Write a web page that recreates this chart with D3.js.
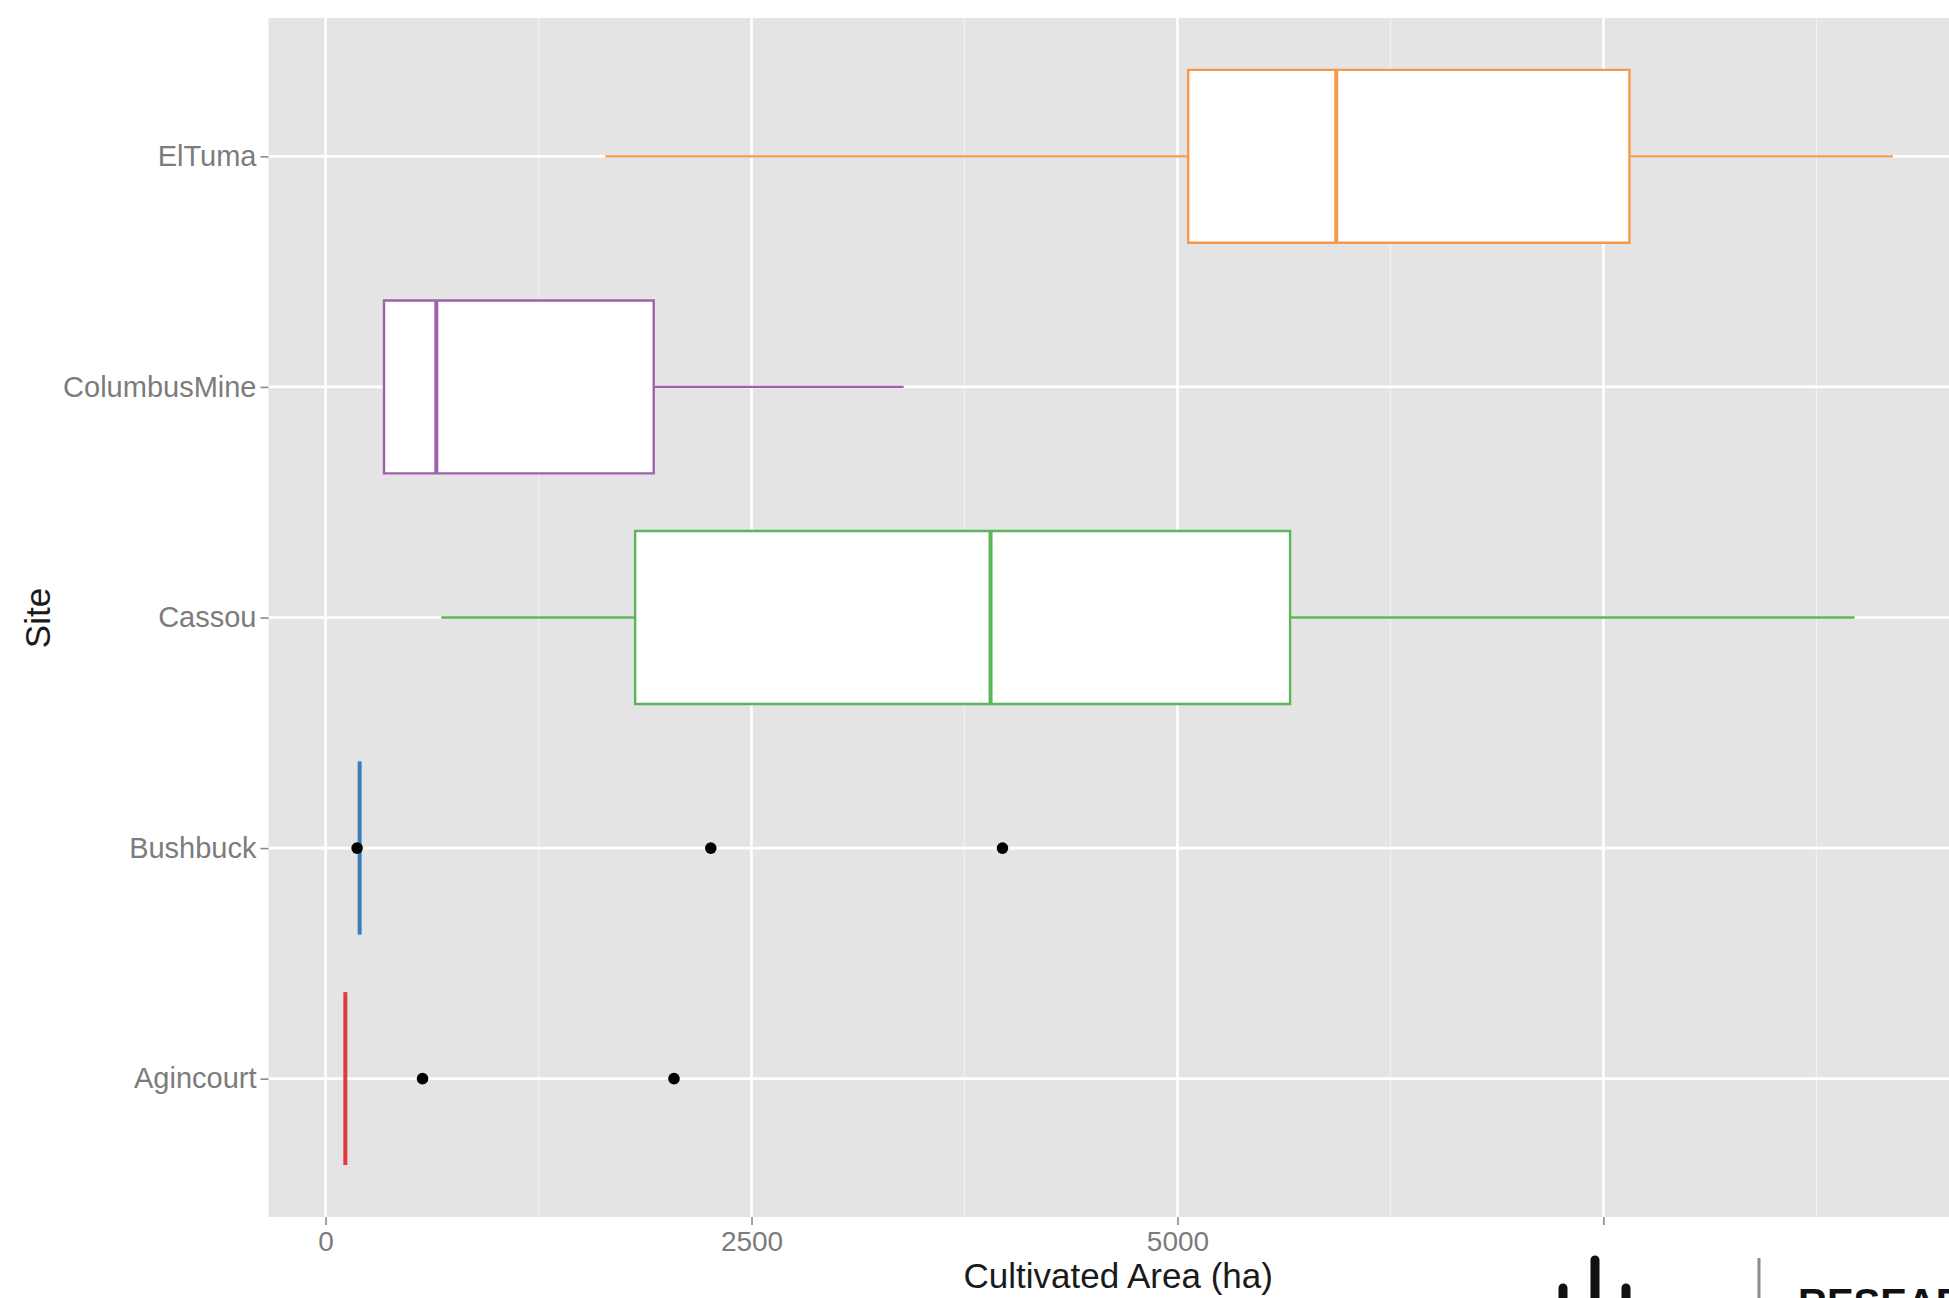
<!DOCTYPE html>
<html>
<head>
<meta charset="utf-8">
<script src="https://cdn.jsdelivr.net/npm/d3@7"></script>
<style>
  html, body { margin: 0; padding: 0; background: #fff; }
  svg { display: block; font-family: "Liberation Sans", Arial, sans-serif; }
</style>
</head>
<body>
<svg id="chart"></svg>
<script>
/* ------------------ data ------------------ */

const sites = ["Agincourt", "Bushbuck", "Cassou", "ColumbusMine", "ElTuma"];
const whiskerLow = [116, 200, 679, 343, 1642];
const q1 = [116, 200, 1817, 343, 5063];
const median = [116, 200, 3903, 650, 5932];
const q3 = [116, 200, 5661, 1926, 7653];
const whiskerHigh = [116, 200, 8974, 3393, 9200];
const outliers = [[569, 2045], [185, 2261, 3973], [], [], []];

const majorTicks = [0, 2500, 5000, 7500];
const minorTicks = [1250, 3750, 6250, 8750];
const xTitle = "Cultivated Area (ha)";
const yTitle = "Site";

/* ------------------ constants ------------------ */

const WIDTH = 1949;
const HEIGHT = 1298;
const PANEL = { left: 268.5, right: 1968, top: 18, bottom: 1217 };
const PALETTE = ["#e2393b", "#3d7db8", "#5cb659", "#a060af", "#f4994a"];

/* ------------------ render ------------------ */

const svg = d3.select("#chart").attr("width", WIDTH).attr("height", HEIGHT);

const x = d3.scaleLinear()
  .domain([-335, 9640])
  .range([PANEL.left, PANEL.right]);

const y = d3.scalePoint()
  .domain(sites)
  .range([PANEL.bottom, PANEL.top])
  .padding(0.6);

const boxH = y.step() * 0.75;

// panel background
svg.append("rect")
  .attr("x", PANEL.left).attr("y", PANEL.top)
  .attr("width", PANEL.right - PANEL.left)
  .attr("height", PANEL.bottom - PANEL.top)
  .attr("fill", "#e4e4e4");

// grid
const grid = svg.append("g");
grid.selectAll("line.minor").data(minorTicks).join("line")
  .attr("x1", d => x(d)).attr("x2", d => x(d))
  .attr("y1", PANEL.top).attr("y2", PANEL.bottom)
  .attr("stroke", "#f1f1f1").attr("stroke-width", 1.3);
grid.selectAll("line.majx").data(majorTicks).join("line")
  .attr("x1", d => x(d)).attr("x2", d => x(d))
  .attr("y1", PANEL.top).attr("y2", PANEL.bottom)
  .attr("stroke", "#fff").attr("stroke-width", 2.6);
grid.selectAll("line.majy").data(sites).join("line")
  .attr("x1", PANEL.left).attr("x2", PANEL.right)
  .attr("y1", d => y(d)).attr("y2", d => y(d))
  .attr("stroke", "#fff").attr("stroke-width", 2.6);

/* ---- boxes ---- */

const boxes = svg.append("g")
  .selectAll("g")
  .data(sites.map((s, i) => ({ s, i })))
  .join("g");

boxes.append("line")
  .attr("x1", d => x(whiskerLow[d.i])).attr("x2", d => x(q1[d.i]))
  .attr("y1", d => y(d.s)).attr("y2", d => y(d.s))
  .attr("stroke", d => PALETTE[d.i]).attr("stroke-width", 2.4);

boxes.append("line")
  .attr("x1", d => x(q3[d.i])).attr("x2", d => x(whiskerHigh[d.i]))
  .attr("y1", d => y(d.s)).attr("y2", d => y(d.s))
  .attr("stroke", d => PALETTE[d.i]).attr("stroke-width", 2.4);

boxes.append("path")
  .attr("d", d => {
    const x0 = x(q1[d.i]), x1 = x(q3[d.i]);
    const y0 = y(d.s) - boxH / 2, y1 = y(d.s) + boxH / 2;
    return `M${x0},${y0}H${x1}V${y1}H${x0}Z`;
  })
  .attr("fill", "#fff")
  .attr("stroke", d => PALETTE[d.i]).attr("stroke-width", 2.4);

boxes.append("line")
  .attr("x1", d => x(median[d.i])).attr("x2", d => x(median[d.i]))
  .attr("y1", d => y(d.s) - boxH / 2).attr("y2", d => y(d.s) + boxH / 2)
  .attr("stroke", d => PALETTE[d.i]).attr("stroke-width", 4);

// outliers
svg.append("g")
  .selectAll("circle")
  .data(outliers.flatMap((arr, i) => arr.map(v => ({ v, s: sites[i] }))))
  .join("circle")
  .attr("cx", d => x(d.v)).attr("cy", d => y(d.s))
  .attr("r", 5.8)
  .attr("fill", "#000");

/* ---- axes ---- */

const xAxis = svg.append("g")
  .attr("transform", `translate(0,${PANEL.bottom})`)
  .call(d3.axisBottom(x).tickValues(majorTicks).tickSize(8).tickPadding(6).tickFormat(d3.format("d")));
xAxis.select(".domain").remove();
xAxis.selectAll(".tick line").attr("stroke", "#8a8a8a").attr("stroke-width", 1.6);
xAxis.selectAll(".tick text")
  .attr("fill", "#7c7c7c").attr("font-size", 28)
  .attr("font-family", "Liberation Sans, Arial, sans-serif");

const yAxis = svg.append("g")
  .attr("transform", `translate(${PANEL.left},0)`)
  .call(d3.axisLeft(y).tickSize(8).tickPadding(4));
yAxis.select(".domain").remove();
yAxis.selectAll(".tick line").attr("stroke", "#8a8a8a").attr("stroke-width", 1.6);
yAxis.selectAll(".tick text")
  .attr("fill", "#7c7c7c").attr("font-size", 29)
  .attr("font-family", "Liberation Sans, Arial, sans-serif");

// titles
svg.append("text")
  .attr("x", (PANEL.left + PANEL.right) / 2).attr("y", 1288)
  .attr("text-anchor", "middle")
  .attr("font-size", 35).attr("fill", "#1a1a1a")
  .text(xTitle);

svg.append("text")
  .attr("transform", "translate(50,618) rotate(-90)")
  .attr("text-anchor", "middle")
  .attr("font-size", 35).attr("fill", "#1a1a1a")
  .text(yTitle);

/* ---- logo overlay (bottom right, cut by the picture edge as in the original) ---- */

const logo = svg.append("g");
logo.append("rect")
  .attr("x", 1442).attr("y", 1231)
  .attr("width", WIDTH - 1442).attr("height", HEIGHT - 1231)
  .attr("fill", "#fff");
logo.selectAll("line.bar")
  .data([[1563, 1288], [1595, 1260], [1626, 1288]])
  .join("line")
  .attr("x1", d => d[0]).attr("x2", d => d[0])
  .attr("y1", d => d[1]).attr("y2", HEIGHT + 10)
  .attr("stroke", "#111").attr("stroke-width", 9)
  .attr("stroke-linecap", "round");
logo.append("line")
  .attr("x1", 1759).attr("x2", 1759)
  .attr("y1", 1258).attr("y2", HEIGHT)
  .attr("stroke", "#8c8c8c").attr("stroke-width", 3);
logo.append("text")
  .attr("x", 1798).attr("y", 1317)
  .attr("font-size", 40).attr("font-weight", "bold")
  .attr("fill", "#111")
  .text("RESEARCH");
</script>
</body>
</html>
